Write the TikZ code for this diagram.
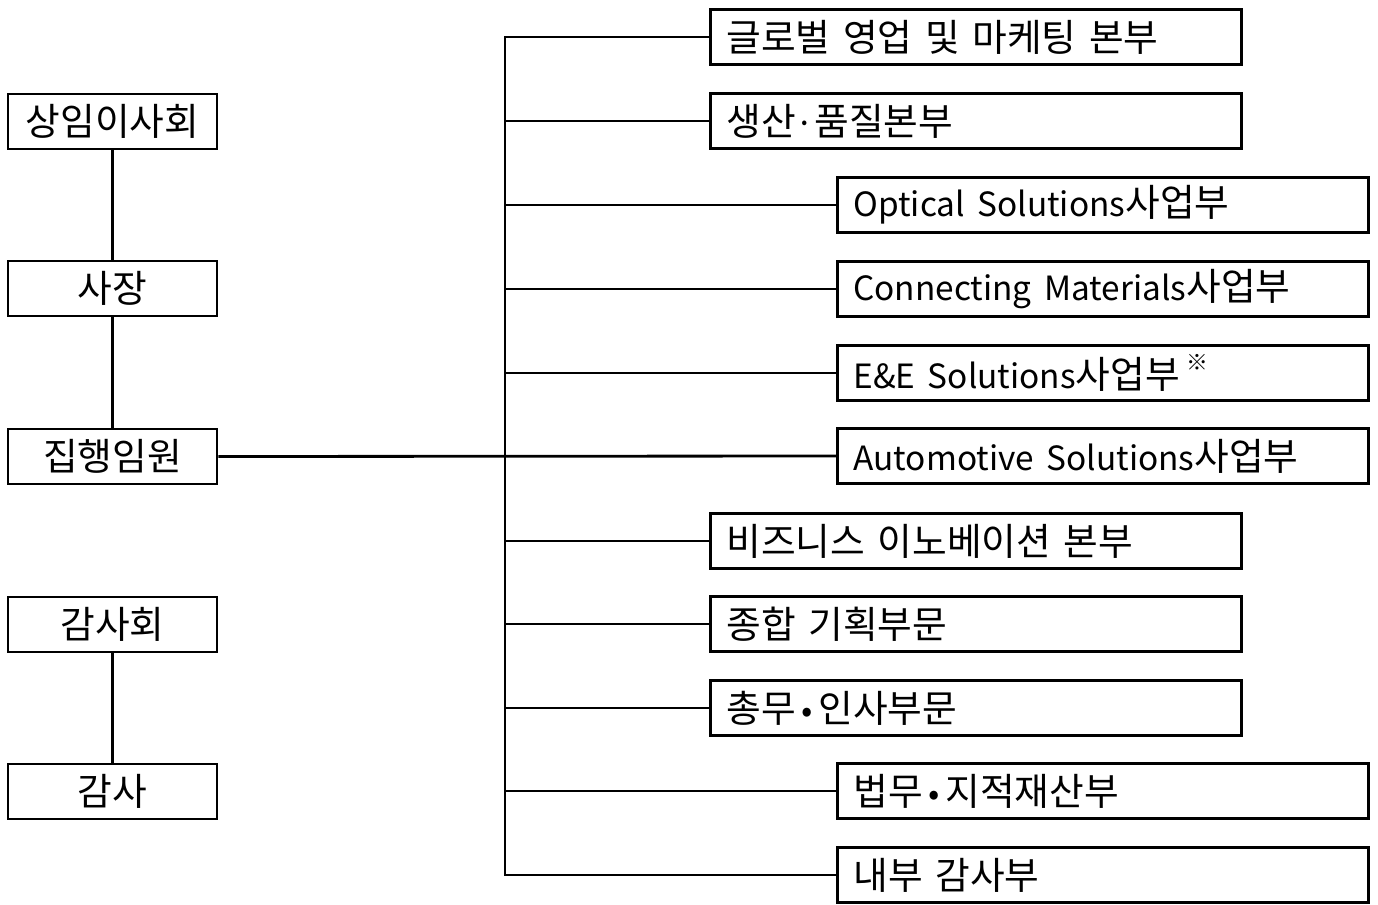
\documentclass[tikz,border=0pt]{standalone}
\usepackage{fontspec}
\setmainfont[Scale=1.13]{Noto Sans CJK KR}
\newfontfamily\latin{Noto Sans CJK KR}

\begin{document}
\begin{tikzpicture}[x=0.02cm,y=-0.02cm]
% style des boîtes
\tikzstyle{poste}=[rectangle,draw,line width=1.6pt,minimum width=4.18cm,minimum height=1.1cm,inner sep=0pt,font=\fontsize{19}{22}\selectfont]
\tikzstyle{division}=[rectangle,draw,line width=1.6pt,text width=9.98cm,inner xsep=0.32cm,inner ysep=0pt,minimum height=1.1cm,align=left,anchor=west,font=\fontsize{19}{22}\selectfont]
% style des liens
\tikzstyle{lien}=[line width=1.6pt]
\useasboundingbox (0,0) rectangle (1378,905);
% organes de gauche
\node[poste] (conseil) at (112.5,121.5) {상임이사회};
\node[poste] (pdg) at (112.5,288.5) {사장};
\node[poste] (exec) at (112.5,456.5) {집행임원};
\node[poste] (audit) at (112.5,624.5) {감사회};
\node[poste] (auditeur) at (112.5,791.5) {감사};
% divisions de droite
\node[division] (glob) at (709,37) {글로벌 영업 및 마케팅 본부};
\node[division] (prod) at (709,121) {생산{\latin·}품질본부};
\node[division] (optic) at (836,205) {{\latin Optical Solutions}사업부};
\node[division] (connect) at (836,289) {{\latin Connecting Materials}사업부};
\node[division] (ee) at (836,373) {{\latin E\&E Solutions}사업부\,\raisebox{0.9ex}{\fontsize{11}{12}\selectfont ※}};
\node[division] (auto) at (836,456) {{\latin Automotive Solutions}사업부};
\node[division] (biz) at (709,541) {비즈니스 이노베이션 본부};
\node[division] (plan) at (709,624) {종합 기획부문};
\node[division] (rh) at (709,708) {총무{\latin\,•\,}인사부문};
\node[division] (jur) at (836,791) {법무{\latin\,•\,}지적재산부};
\node[division] (interne) at (836,875) {내부 감사부};
% tronc
\coordinate (hautT) at (505,37);
\coordinate (basT) at (505,875);
% liens
\draw[lien] (conseil) -- (pdg);
\draw[lien] (pdg) -- (exec);
\draw[lien] (audit) -- (auditeur);
\draw[lien] (exec.east) -- (auto.west);
\draw[lien] (glob.west) -- (hautT) -- (basT) -- (interne.west);
\foreach \d in {prod,optic,connect,ee,biz,plan,rh,jur}
  \draw[lien] (\d.west) -- (\d.west -| hautT);
\end{tikzpicture}
\end{document}
